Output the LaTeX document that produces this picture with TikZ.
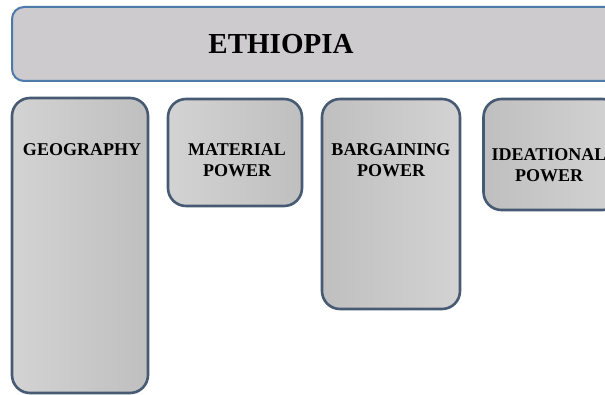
\documentclass[tikz,border=0pt]{standalone}
\usepackage{fontspec}
\setmainfont{Liberation Serif}
\usetikzlibrary{calc}
\definecolor{topfill}{HTML}{CDCBCD}
\definecolor{topline}{HTML}{4C7BAA}
\definecolor{boxline}{HTML}{475A73}
\definecolor{lightg}{HTML}{D3D3D3}
\definecolor{darkg}{HTML}{BFBFBF}
\tikzset{
  topbox/.style={draw=topline, line width=2pt, fill=topfill, rounded corners=12pt, inner sep=0pt},
  pillar/.style={draw=boxline, line width=2.6pt, rounded corners=18pt, inner sep=0pt},
  lightleft/.style={left color=lightg, right color=darkg},
  darkleft/.style={left color=darkg, right color=lightg},
  lbl/.style={font=\fontsize{18}{21}\selectfont\bfseries, align=center, inner sep=0pt},
  title/.style={font=\fontsize{29}{32}\selectfont\bfseries, inner sep=0pt}
}
\begin{document}
\begin{tikzpicture}[x=1pt,y=-1pt]
\clip (0,0) rectangle (605,395);
\fill[white] (0,0) rectangle (605,395);
\node[topbox, minimum width=610pt, minimum height=74pt] (top) at (317,44) {};
\node[title] (ttl) at (281,44) {ETHIOPIA};
\node[pillar, lightleft, minimum width=136pt, minimum height=295pt] (geo) at (80,245.5) {};
\node[pillar, lightleft, minimum width=134pt, minimum height=107pt] (mat) at (235,152.5) {};
\node[pillar, darkleft, minimum width=138pt, minimum height=210pt] (barg) at (391,204) {};
\node[pillar, darkleft, minimum width=137pt, minimum height=111pt] (idea) at (552,154.5) {};
\node[lbl] (geot) at ($(geo.north)+(2,53)$) {GEOGRAPHY};
\node[lbl] (matt) at ($(mat.north)+(2,62)$) {MATERIAL\\POWER};
\node[lbl] (bargt) at ($(barg.north)+(0,62)$) {BARGAINING\\POWER};
\node[lbl] (ideat) at ($(idea.north)+(-3,67)$) {IDEATIONAL\\POWER};
\end{tikzpicture}
\end{document}
